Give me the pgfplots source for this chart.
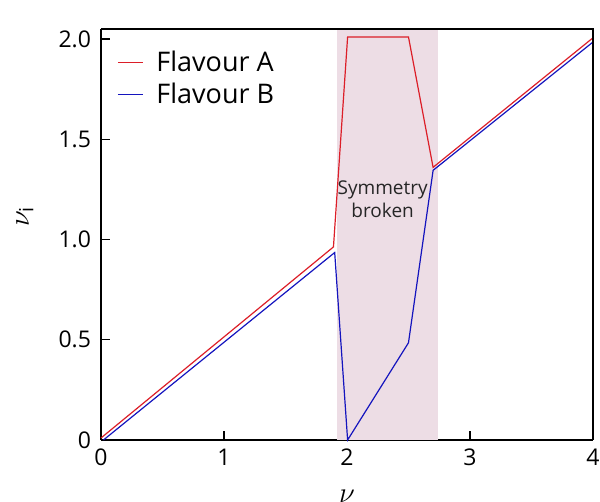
\documentclass[border=0pt]{standalone}
\usepackage{pgfplots}
\pgfplotsset{compat=1.18}
\usepackage{fontspec}
\setmainfont{Open Sans}
\definecolor{shade}{RGB}{237,221,229}
\definecolor{flavA}{RGB}{220,30,40}
\definecolor{flavB}{RGB}{20,20,190}
\begin{document}
\begin{tikzpicture}
\begin{axis}[
  at={(0,0)}, anchor=south west,
  width=246pt, height=205.5pt, scale only axis,
  xmin=0, xmax=4, ymin=0, ymax=2.05,
  axis line style={line width=0.6pt},
  axis x line*=bottom, axis y line*=left,
  separate axis lines,
  x axis line style={-}, y axis line style={-},
  tick style={line width=0.6pt, black},
  tick align=inside, major tick length=4.5pt,
  xtick={0,1,2,3,4}, ytick={0,0.5,1,1.5,2},
  yticklabels={0,0.5,1.0,1.5,2.0},
  ticklabel style={font=\fontsize{11.5}{14}\selectfont},
  /pgf/number format/assume math mode=true,
  xticklabel style={yshift=-1pt},
  yticklabel style={xshift=-1.5pt},
  xlabel={$\nu$}, ylabel={$\nu_{\mathrm{i}}$},
  label style={font=\fontsize{14}{16}\selectfont},
  xlabel style={at={(axis description cs:0.5,0)}, anchor=center, yshift=-28pt},
  ylabel style={at={(axis description cs:0,0.5)}, anchor=center, yshift=38pt, xshift=9pt},
  legend style={draw=none, fill=none, at={(0.02,0.968)}, anchor=north west,
    font=\fontsize{13.5}{15}\selectfont, row sep=0.5pt,
    legend cell align=left},
  legend image code/.code={\draw[#1, line width=0.6pt] (0pt,0pt) -- (12.5pt,0pt);
    \path (17pt,0pt);},
  clip=false,
]
\addplot[fill=shade, draw=none, forget plot] coordinates
  {(1.916,0) (2.74,0) (2.74,2.05) (1.916,2.05)} -- cycle;
\node[font=\fontsize{9.5}{11.5}\selectfont, align=center, text=black!85]
  at (axis cs:2.29,1.20) {Symmetry\\broken};
\addplot[flavA, line width=0.6pt] coordinates
  {(0,0.01) (1.89,0.963) (2.005,2.01) (2.5,2.01) (2.70,1.36) (4,2.006)};
\addlegendentry{Flavour A}
\addplot[flavB, line width=0.6pt] coordinates
  {(0.02,0) (1.90,0.935) (2.005,0) (2.50,0.485) (2.70,1.345) (4,1.985)};
\addlegendentry{Flavour B}
\draw[line width=0.6pt] (rel axis cs:0,1) -- (rel axis cs:1,1) -- (rel axis cs:1,0);
\end{axis}
\pgfresetboundingbox
\path (-50.5pt,-31pt) rectangle (249.5pt,220pt);
\end{tikzpicture}
\end{document}
